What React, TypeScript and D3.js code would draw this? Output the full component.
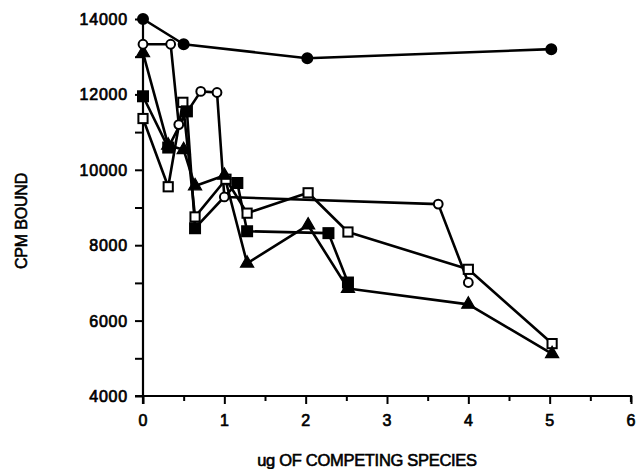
import * as d3 from "d3";
import { useEffect, useRef } from "react";

// x in ug of competing species, y in CPM bound
const filledCircleX = [0, 0.5, 2.02, 5.02];
const filledCircleY = [14000, 13330, 12960, 13200];

const openCircleX = [0, 0.34, 0.44, 0.71, 0.91, 1.0, 3.63, 4.0];
const openCircleY = [13330, 13330, 11200, 12080, 12050, 9280, 9090, 7010];

const openSquareX = [0, 0.31, 0.49, 0.64, 1.02, 1.28, 2.03, 2.52, 4.0, 5.03];
const openSquareY = [11360, 9550, 11790, 8750, 9750, 8850, 9390, 8350, 7360, 5390];

const filledSquareX = [0, 0.31, 0.54, 0.64, 1.16, 1.28, 2.28, 2.52];
const filledSquareY = [11950, 10590, 11550, 8450, 9650, 8370, 8320, 7010];

const triangleX = [0, 0.31, 0.5, 0.64, 1.0, 1.28, 2.03, 2.52, 4.0, 5.03];
const triangleY = [13100, 10650, 10530, 9570, 9850, 7520, 8530, 6850, 6430, 5120];

const xTicks = [0, 1, 2, 3, 4, 5, 6];
const yTicks = [4000, 6000, 8000, 10000, 12000, 14000];

type Shape = "circle" | "square" | "triangle";

const series: { xs: number[]; ys: number[]; shape: Shape; filled: boolean }[] = [
  { xs: openSquareX, ys: openSquareY, shape: "square", filled: false },
  { xs: filledSquareX, ys: filledSquareY, shape: "square", filled: true },
  { xs: triangleX, ys: triangleY, shape: "triangle", filled: true },
  { xs: openCircleX, ys: openCircleY, shape: "circle", filled: false },
  { xs: filledCircleX, ys: filledCircleY, shape: "circle", filled: true },
];

export default function App() {
  const ref = useRef<SVGSVGElement>(null);

  useEffect(() => {
    if (!ref.current) return;
    const svg = d3.select(ref.current);
    svg.selectAll("*").remove();

    const font = "'Liberation Sans', Arial, sans-serif";
    const x = d3.scaleLinear().domain([0, 6]).range([143, 631]);
    const y = d3.scaleLinear().domain([4000, 14000]).range([396, 19]);

    const g = svg.append("g");

    // axes
    const xAxis = d3
      .axisBottom(x)
      .tickValues(d3.range(0, 6.01, 0.5))
      .tickSize(6)
      .tickFormat(() => "");
    g.append("g")
      .attr("transform", `translate(0,${y(4000)})`)
      .call(xAxis)
      .call((a) => a.select(".domain").attr("d", `M${x(0) - 8},0H${x(6)}V6`).attr("stroke-width", 2.2))
      .call((a) => a.selectAll(".tick line").attr("stroke-width", 2).attr("y2", (d) => (Number.isInteger(d as number) ? 8 : 5)));

    g.selectAll(".xlab")
      .data(xTicks)
      .join("text")
      .attr("x", (d) => x(d))
      .attr("y", 426)
      .attr("text-anchor", "middle")
      .style("font-family", font)
      .style("font-size", "16px")
      .style("stroke", "#000")
      .style("stroke-width", 0.7)
      .text((d) => d);

    const yAxis = d3
      .axisLeft(y)
      .tickValues(d3.range(4000, 14001, 1000))
      .tickSize(8)
      .tickFormat(() => "");
    g.append("g")
      .attr("transform", `translate(${x(0)},0)`)
      .call(yAxis)
      .call((a) => a.select(".domain").attr("d", `M0,${y(14000)}V${y(4000) + 8}`).attr("stroke-width", 2.2))
      .call((a) => a.selectAll(".tick line").attr("stroke-width", 2));

    g.selectAll(".ylab")
      .data(yTicks)
      .join("text")
      .attr("x", 128)
      .attr("y", (d) => y(d) + 6)
      .attr("text-anchor", "end")
      .style("font-family", font)
      .style("font-size", "16px")
      .style("letter-spacing", "0.8px")
      .style("stroke", "#000")
      .style("stroke-width", 0.7)
      .text((d) => d);

    g.append("text")
      .attr("transform", `translate(27,221) rotate(-90)`)
      .attr("text-anchor", "middle")
      .style("font-family", font)
      .style("font-size", "16px")
      .style("letter-spacing", "-0.2px")
      .style("stroke", "#000")
      .style("stroke-width", 0.6)
      .text("CPM BOUND");

    g.append("text")
      .attr("x", 367)
      .attr("y", 466)
      .attr("text-anchor", "middle")
      .style("font-family", font)
      .style("font-size", "16.5px")
      .style("letter-spacing", "-0.3px")
      .style("stroke", "#000")
      .style("stroke-width", 0.6)
      .text("ug OF COMPETING SPECIES");

    const line = d3
      .line<[number, number]>()
      .x((d) => x(d[0]))
      .y((d) => y(d[1]));

    series.forEach((s) => {
      const pts = s.xs.map((v, i) => [v, s.ys[i]] as [number, number]);
      g.append("path")
        .attr("d", line(pts))
        .attr("fill", "none")
        .attr("stroke", "#000")
        .attr("stroke-width", 2.6)
        .attr("stroke-linejoin", "round");
    });

    series.forEach((s) => {
      const pts = s.xs.map((v, i) => [v, s.ys[i]] as [number, number]);
      const fill = s.filled ? "#000" : "#fff";
      const mg = g.append("g");
      if (s.shape === "circle") {
        mg.selectAll("circle")
          .data(pts)
          .join("circle")
          .attr("cx", (d) => x(d[0]))
          .attr("cy", (d) => y(d[1]))
          .attr("r", s.filled ? 5 : 4.4)
          .attr("fill", fill)
          .attr("stroke", "#000")
          .attr("stroke-width", 2);
      } else if (s.shape === "square") {
        const half = s.filled ? 5 : 4.6;
        mg.selectAll("rect")
          .data(pts)
          .join("rect")
          .attr("x", (d) => x(d[0]) - half)
          .attr("y", (d) => y(d[1]) - half)
          .attr("width", half * 2)
          .attr("height", half * 2)
          .attr("fill", fill)
          .attr("stroke", "#000")
          .attr("stroke-width", 2);
      } else {
        const tri = d3.symbol().type(d3.symbolTriangle).size(75);
        mg.selectAll("path")
          .data(pts)
          .join("path")
          .attr("transform", (d) => `translate(${x(d[0])},${y(d[1])})`)
          .attr("d", tri)
          .attr("fill", fill)
          .attr("stroke", "#000")
          .attr("stroke-width", 1.2);
      }
    });
  }, []);

  return (
    <svg
      ref={ref}
      width={642}
      height={469}
      style={{ position: "absolute", left: 0, top: 0, background: "#fff" }}
    />
  );
}
